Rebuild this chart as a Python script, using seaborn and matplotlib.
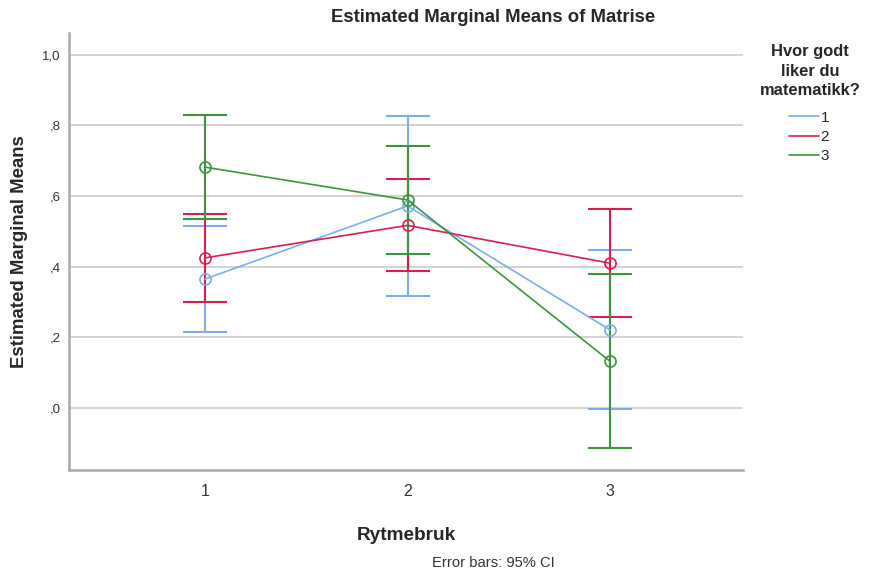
import matplotlib
matplotlib.use("Agg")
import matplotlib.pyplot as plt
import seaborn as sns
import pandas as pd
from matplotlib.lines import Line2D

# Estimated marginal means with 95% CI per level of Rytmebruk
rytmebruk = [1, 2, 3]
groups = ["1", "2", "3"]
mean_g1 = [0.365, 0.572, 0.221]
mean_g2 = [0.425, 0.517, 0.410]
mean_g3 = [0.682, 0.589, 0.132]
low_g1 = [0.215, 0.317, -0.003]
high_g1 = [0.514, 0.827, 0.448]
low_g2 = [0.300, 0.387, 0.257]
high_g2 = [0.548, 0.648, 0.563]
low_g3 = [0.534, 0.436, -0.113]
high_g3 = [0.831, 0.742, 0.380]
y_ticks = [0.0, 0.2, 0.4, 0.6, 0.8, 1.0]
y_tick_labels = [",0", ",2", ",4", ",6", ",8", "1,0"]

colors = {"1": "#7aaef0", "2": "#d81f4f", "3": "#3c953c"}

means = [mean_g1, mean_g2, mean_g3]
lows = [low_g1, low_g2, low_g3]
highs = [high_g1, high_g2, high_g3]

rows = []
for g, m, lo, hi in zip(groups, means, lows, highs):
    for x, mv, l, h in zip(rytmebruk, m, lo, hi):
        rows.append({"Rytmebruk": x, "group": g, "mean": mv, "low": l, "high": h})
df = pd.DataFrame(rows)

sns.set_style("white")
plt.rcParams["font.family"] = ["Liberation Sans", "DejaVu Sans"]

fig = plt.figure(figsize=(8.69, 5.73), dpi=100)
ax = fig.add_axes([69 / 869, 1 - 470 / 573, (743 - 69) / 869, (470 - 33) / 573])

# CI whiskers with caps
for g in groups:
    sub = df[df["group"] == g]
    ax.errorbar(sub["Rytmebruk"], sub["mean"],
                yerr=[sub["mean"] - sub["low"], sub["high"] - sub["mean"]],
                fmt="none", color=colors[g], ecolor=colors[g], elinewidth=1.5,
                capsize=16, capthick=1.5, zorder=3)

sns.lineplot(data=df, x="Rytmebruk", y="mean", hue="group", palette=colors,
             ax=ax, linewidth=1.2, marker="o", markersize=8,
             markerfacecolor="none", markeredgewidth=1.2,
             legend=False, zorder=4)
for line in ax.lines:
    c = line.get_color()
    line.set_markeredgecolor(c)

ax.set_xlim(0.328, 3.657)
ax.set_ylim(-0.176, 1.062)
ax.set_xticks(rytmebruk)
ax.set_xticklabels([str(v) for v in rytmebruk], fontsize=11.5, color="#333333")
ax.set_yticks(y_ticks)
ax.set_yticklabels(y_tick_labels, fontsize=9.5, color="#333333")
ax.tick_params(axis="both", length=0, pad=6)
ax.tick_params(axis="x", pad=10)
ax.yaxis.grid(True, color="#cccccc", linewidth=1.2)
ax.set_axisbelow(True)
for s in ["top", "right"]:
    ax.spines[s].set_visible(False)
for s in ["left", "bottom"]:
    ax.spines[s].set_color("#a8a8a8")
    ax.spines[s].set_linewidth(1.8)

ax.set_xlabel("Rytmebruk", fontsize=13.7, fontweight="bold", labelpad=20)
ax.set_ylabel("Estimated Marginal Means", fontsize=13.4, fontweight="bold", labelpad=10)

fig.text(493 / 869, 1 - 18 / 573, "Estimated Marginal Means of Matrise",
         ha="center", va="center", fontsize=13.3, fontweight="bold")
fig.text(493 / 869, 1 - 563 / 573, "Error bars: 95% CI", ha="center",
         va="center", fontsize=10.6, color="#333333")

# Legend: bold centred title plus short line handles
fig.text(810 / 869, 1 - 71 / 573, "Hvor godt\nliker du\nmatematikk?",
         ha="center", va="center", multialignment="center", fontsize=11.9,
         fontweight="bold", linespacing=1.4)
handles = [Line2D([0], [0], color=colors[g], linewidth=1.2) for g in groups]
fig.legend(handles, groups, loc="upper left",
           bbox_to_anchor=(784 / 869, 1 - 106 / 573), frameon=False,
           fontsize=11, handlelength=2.0, handletextpad=0.1,
           labelspacing=0.35, borderaxespad=0, borderpad=0.3)

fig.savefig("out.png", dpi=100)
